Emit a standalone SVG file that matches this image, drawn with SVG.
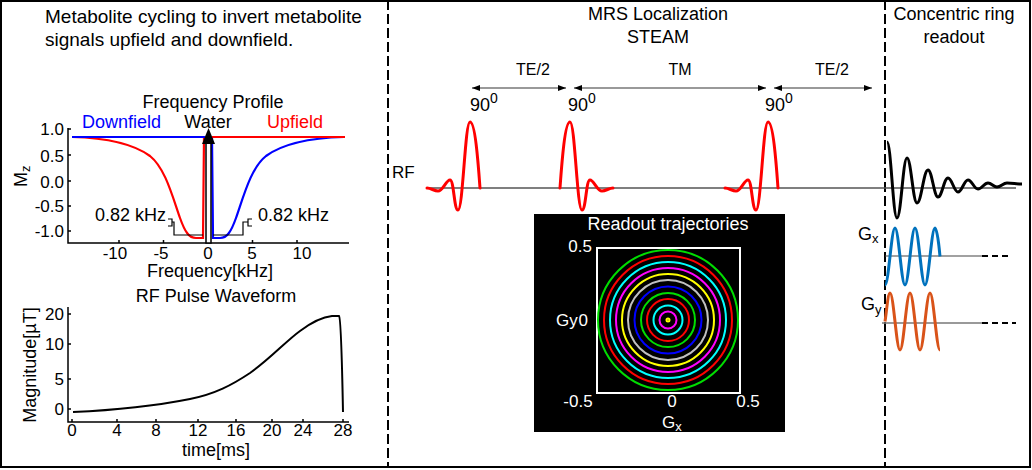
<svg xmlns="http://www.w3.org/2000/svg" width="1032" height="470" viewBox="0 0 1032 470">
<defs>
<style>
text{font-family:"Liberation Sans",Arial,sans-serif;fill:#000}
.h{font-size:18px}
.k{font-size:17px}
.m{font-size:16px}
.c{text-anchor:middle}
.r{text-anchor:end}
.w{fill:#fff}
.ax{stroke:#000;stroke-width:1.5;fill:none}
.rf{stroke:#ff0000;stroke-width:3;fill:none;stroke-linejoin:round;stroke-linecap:round}
.ring{fill:none;stroke-width:2}
.div{stroke:#000;stroke-width:2;stroke-dasharray:10 4}
.dim{stroke:#777;stroke-width:1.5;fill:none}
</style>
<marker id="ah" viewBox="0 0 8 6" refX="8" refY="3" markerWidth="8" markerHeight="6" markerUnits="userSpaceOnUse" orient="auto-start-reverse"><path d="M0,0 L8,3 L0,6 Z" fill="#000"/></marker>
</defs>
<rect x="0" y="0" width="1032" height="470" fill="#fff"/>
<rect x="1" y="1" width="1029" height="466" fill="none" stroke="#000" stroke-width="2"/>
<line class="div" x1="388" y1="0" x2="388" y2="468"/>
<line class="div" x1="885" y1="0" x2="885" y2="468"/>

<g id="metabolite-cycling">
<text x="45" y="23" font-size="19">Metabolite cycling to invert metabolite</text>
<text x="45" y="46" font-size="19">signals upfield and downfield.</text>
</g>

<g id="frequency-profile">
<text class="h c" x="213" y="108">Frequency Profile</text>
<path class="ax" d="M68,128 V243 H349"/>
<path class="ax" d="M68,129 h3 M68,155 h3 M68,181 h3 M68,206 h3 M68,231 h3 M119,243 v-3 M163.5,243 v-3 M252.5,243 v-3 M297,243 v-3"/>
<text class="k r" x="64" y="135">1.0</text>
<text class="k r" x="64" y="162">0.5</text>
<text class="k r" x="64" y="188">0.0</text>
<text class="k r" x="64" y="212">-0.5</text>
<text class="k r" x="64" y="237">-1.0</text>
<text class="h" transform="translate(27,187) rotate(-90)">M<tspan font-size="13" dy="3">z</tspan></text>
<text class="k c" x="115" y="259">-10</text>
<text class="k c" x="161" y="259">-5</text>
<text class="k c" x="208" y="259">0</text>
<text class="k c" x="252" y="259">5</text>
<text class="k c" x="302" y="259">10</text>
<text class="h c" x="210" y="277">Frequency[kHz]</text>
<path d="M72,137 C110,138 135,145 150,156 C165,168 172,195 180,218 C185,232 189,238 196,238 L203,238 L204,137" fill="none" stroke="#ff0000" stroke-width="2.2"/>
<path d="M72,137 C110,138 135,145 150,156 C165,168 172,195 180,218 C185,232 189,238 196,238 L203,238 L204,137" transform="translate(416,0) scale(-1,1)" fill="none" stroke="#0000ff" stroke-width="2.2"/>
<line x1="72" y1="137" x2="205" y2="137" stroke="#0000ff" stroke-width="2.2"/>
<line x1="212" y1="137" x2="345" y2="137" stroke="#ff0000" stroke-width="2.2"/>
<rect x="206" y="143" width="5" height="100" fill="#fff" stroke="#000" stroke-width="1.5"/>
<path d="M202,144 L208.5,128 L215,144 Z" fill="#000"/>
<text class="h c" x="208" y="128">Water</text>
<text class="h" x="82" y="128" style="fill:#0000ff">Downfield</text>
<text class="h" x="267" y="128" style="fill:#ff0000">Upfield</text>
<path d="M168,219 H172 V226 H168 M172,222 H174 V235 H203 M252,219 H248 V226 H252 M248,222 H243 V235 H213" fill="none" stroke="#000" stroke-width="1.2"/>
<text class="h" x="95" y="221">0.82 kHz</text>
<text class="h" x="258" y="221">0.82 kHz</text>
</g>

<g id="rf-pulse-waveform">
<text class="h c" x="216" y="302">RF Pulse Waveform</text>
<path class="ax" d="M68,307 V422 H349"/>
<path class="ax" d="M68,314 h3 M68,344 h3 M68,379 h3 M68,409 h3 M72,422 v-3 M117,422 v-3 M156,422 v-3 M198,422 v-3 M236,422 v-3 M272,422 v-3 M303,422 v-3 M343,422 v-3"/>
<text class="k r" x="64" y="320">20</text>
<text class="k r" x="64" y="350">10</text>
<text class="k r" x="64" y="385">5</text>
<text class="k r" x="64" y="415">0</text>
<text class="h c" transform="translate(36,365) rotate(-90)">Magnitude[µT]</text>
<text class="k c" x="72" y="436">0</text>
<text class="k c" x="117" y="436">4</text>
<text class="k c" x="156" y="436">8</text>
<text class="k c" x="198" y="436">12</text>
<text class="k c" x="236" y="436">16</text>
<text class="k c" x="272" y="436">20</text>
<text class="k c" x="303" y="436">24</text>
<text class="k c" x="343" y="436">28</text>
<text class="h c" x="216" y="456">time[ms]</text>
<path d="M73,412 C120,410 160,405 190,399 C215,394 232,385 250,373 C270,359 285,342 300,331 C312,322 322,317 332,316 L339,316 C341,318 342,360 343,412" fill="none" stroke="#000" stroke-width="2"/>
</g>

<g id="mrs-localization">
<text class="h c" x="658" y="20">MRS Localization</text>
<text class="h c" x="658" y="43">STEAM</text>
<text class="m c" x="533" y="75">TE/2</text>
<text class="m c" x="680" y="75">TM</text>
<text class="m c" x="832" y="75">TE/2</text>
<text class="h" x="470" y="111">90<tspan font-size="14" dy="-8">0</tspan></text>
<text class="h" x="568" y="111">90<tspan font-size="14" dy="-8">0</tspan></text>
<text class="h" x="765" y="111">90<tspan font-size="14" dy="-8">0</tspan></text>
<text class="k" x="392" y="178">RF</text>
<line x1="427" y1="188" x2="1016" y2="188" stroke="#555" stroke-width="1.6"/>
<path class="rf" d="M427,188 C431,188 434,191 438,191 C443,191 446,180 450,180 C454,180 454,210 458,210 C463,210 465,122 470,122 C475,122 478,160 480,188"/>
<path class="rf" transform="translate(1040,0) scale(-1,1)" d="M427,188 C431,188 434,191 438,191 C443,191 446,180 450,180 C454,180 454,210 458,210 C463,210 465,122 470,122 C475,122 478,160 480,188"/>
<path class="rf" transform="translate(298,0)" d="M427,188 C431,188 434,191 438,191 C443,191 446,180 450,180 C454,180 454,210 458,210 C463,210 465,122 470,122 C475,122 478,160 480,188"/>
</g>

<g id="connectors">
<line class="dim" x1="472" y1="88" x2="566" y2="88" marker-start="url(#ah)" marker-end="url(#ah)"/>
<line class="dim" x1="574" y1="88" x2="766" y2="88" marker-start="url(#ah)" marker-end="url(#ah)"/>
<line class="dim" x1="774" y1="88" x2="872" y2="88" marker-start="url(#ah)" marker-end="url(#ah)"/>
</g>

<g id="readout-trajectories">
<rect x="534" y="214" width="251" height="218" fill="#000"/>
<text class="h c w" x="668" y="230">Readout trajectories</text>
<rect x="597" y="248" width="143" height="145" fill="none" stroke="#fff" stroke-width="2"/>
<circle class="ring" cx="668" cy="320" r="70" stroke="#00dd00"/>
<circle class="ring" cx="668" cy="320" r="64" stroke="#ff0000"/>
<circle class="ring" cx="668" cy="320" r="58" stroke="#00ffff"/>
<circle class="ring" cx="668" cy="320" r="52" stroke="#ff00ff"/>
<circle class="ring" cx="668" cy="320" r="46" stroke="#ffff00"/>
<circle class="ring" cx="668" cy="320" r="40" stroke="#c0c0c0"/>
<circle class="ring" cx="668" cy="320" r="33.5" stroke="#0000ff"/>
<circle class="ring" cx="668" cy="320" r="27" stroke="#00dd00"/>
<circle class="ring" cx="668" cy="320" r="21" stroke="#ff0000"/>
<circle class="ring" cx="668" cy="320" r="14.5" stroke="#00ffff"/>
<circle class="ring" cx="668" cy="320" r="8.5" stroke="#ff00ff"/>
<circle class="ring" cx="668" cy="320" r="1.5" stroke="#ffff00"/>
<text class="k r w" x="592" y="252">0.5</text>
<text class="k w" x="556" y="326">Gy</text>
<text class="k r w" x="588" y="326">0</text>
<text class="k c w" x="578" y="407">-0.5</text>
<text class="k c w" x="672" y="407">0</text>
<text class="k c w" x="748" y="407">0.5</text>
<text class="k w" x="662" y="428">G<tspan font-size="13" dy="3">x</tspan></text>
</g>

<g id="concentric-ring-readout">
<text class="h c" x="954" y="20">Concentric ring</text>
<text class="h c" x="954" y="43">readout</text>
<path d="M887,142 C891,142 893,218 897,218 C901,218 903,158 907,158 C911,158 913,203 917,203 C921.4,203 923.6,170 928,170 C932,170 934,197 938,197 C942,197 944,178 948,178 C952,178 954,192 958,192 C962,192 964,180 968,180 C972,180 974,189 978,189 C982,189 984,183 988,183 C991.6,183 993.4,187 997,187 C1001,187 1003,183 1007,183 C1013,183 1016,184 1022,184" fill="none" stroke="#000" stroke-width="3" stroke-linejoin="round"/>
<text class="h" x="858" y="240">G<tspan font-size="13" dy="3">x</tspan></text>
<line x1="885" y1="256" x2="982" y2="256" stroke="#444" stroke-width="1.2"/>
<line x1="982" y1="256" x2="1010" y2="256" stroke="#000" stroke-width="2" stroke-dasharray="6 4"/>
<path d="M885,285 C888.6,285 891.4,228 895,228 C898.6,228 901.4,285 905,285 C908.6,285 911.4,228 915,228 C918.6,228 921.4,285 925,285 C928.6,285 931.4,228 935,228 C937,228 939,245 940,256.5" fill="none" stroke="#0072BD" stroke-width="3"/>
<text class="h" x="861" y="310">G<tspan font-size="13" dy="4">y</tspan></text>
<line x1="882" y1="323" x2="982" y2="323" stroke="#777" stroke-width="1.5"/>
<line x1="982" y1="323" x2="1016" y2="323" stroke="#000" stroke-width="2" stroke-dasharray="6 4"/>
<path d="M885,321.5 C886.5,312 888,293 890,293 C893.6,293 896.4,350 900,350 C903.6,350 906.4,293 910,293 C913.6,293 916.4,350 920,350 C923.6,350 926.4,293 930,293 C933.6,293 936.4,350 940,350" fill="none" stroke="#D95319" stroke-width="3"/>
</g>
</svg>
